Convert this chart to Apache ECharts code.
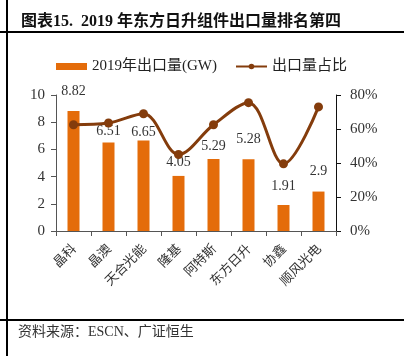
<!DOCTYPE html>
<html><head><meta charset="utf-8">
<script src="https://cdn.jsdelivr.net/npm/echarts@6/dist/echarts.min.js"></script>
<style>html,body{margin:0;padding:0;background:#fff}#c{width:404px;height:356px}</style>
</head><body><div id="c"></div>
<script>
const categories = ['晶科','晶澳','天合光能','隆基','阿特斯','东方日升','协鑫','顺风光电'];
const exportGW = [8.82, 6.51, 6.65, 4.05, 5.29, 5.28, 1.91, 2.9];
const sharePct = [62.5, 63.5, 69, 45, 62.5, 75.5, 39.5, 73];
const leftTicks = {min: 0, max: 10, interval: 2};
const rightTicks = {min: 0, max: 80, interval: 20};
const labelGap = [13, 4, 1, 7, 6, 13, 12, 13];

const serif = '"Liberation Serif", "Noto Sans CJK SC", serif';
const chart = echarts.init(document.getElementById('c'), null, {renderer: 'canvas'});
chart.setOption({
  animation: false,
  backgroundColor: '#fff',
  title: {
    text: '图表15.  2019 年东方日升组件出口量排名第四',
    left: 16, top: 9,
    textStyle: {fontFamily: serif, fontSize: 16, fontWeight: 'bold', color: '#111'}
  },
  graphic: [
    {type: 'rect', shape: {x: 6, y: 0, width: 2, height: 356}, style: {fill: '#000'}},
    {type: 'rect', shape: {x: 0, y: 31, width: 404, height: 2}, style: {fill: '#000'}},
    {type: 'rect', shape: {x: 0, y: 319, width: 404, height: 2}, style: {fill: '#000'}},
    {type: 'text', left: 18, top: 325, style: {text: '资料来源：ESCN、广证恒生', font: '14px ' + serif, fill: '#333'}}
  ],
  legend: {
    left: 51, top: 54,
    itemWidth: 31, itemHeight: 7, itemGap: 18,
    textStyle: {fontFamily: serif, fontSize: 15, color: '#222'},
    data: [
      {name: '2019年出口量(GW)', icon: 'rect'},
      {name: '出口量占比'}
    ]
  },
  grid: {left: 56, right: 68, top: 95, bottom: 125, containLabel: false},
  xAxis: {
    type: 'category', data: categories,
    axisLine: {lineStyle: {color: '#555', width: 1}},
    axisTick: {show: true, length: 5, lineStyle: {color: '#555'}},
    axisLabel: {rotate: 45, interval: 0, fontSize: 13, color: '#333', margin: 15,
      fontFamily: '"Noto Sans CJK SC", sans-serif'}
  },
  yAxis: [
    {type: 'value', min: leftTicks.min, max: leftTicks.max, interval: leftTicks.interval,
     axisLine: {show: true, lineStyle: {color: '#555'}},
     axisTick: {show: true, length: 5, lineStyle: {color: '#555'}},
     splitLine: {show: false},
     axisLabel: {fontFamily: serif, fontSize: 15, color: '#333', margin: 11}},
    {type: 'value', min: rightTicks.min, max: rightTicks.max, interval: rightTicks.interval,
     axisLine: {show: true, lineStyle: {color: '#111'}},
     axisTick: {show: true, length: 5, lineStyle: {color: '#111'}},
     splitLine: {show: false},
     axisLabel: {fontFamily: serif, fontSize: 15, color: '#333', margin: 14, formatter: '{value}%'}}
  ],
  series: [
    {name: '2019年出口量(GW)', type: 'bar', yAxisIndex: 0, barWidth: 12,
     itemStyle: {color: '#E46C0A'},
     data: exportGW.map((v, i) => ({value: v, label: {distance: labelGap[i]}})),
     label: {show: true, position: 'top', fontFamily: serif, fontSize: 14, color: '#333'}},
    {name: '出口量占比', type: 'line', yAxisIndex: 1, smooth: 0.35,
     symbol: 'circle', symbolSize: 9,
     lineStyle: {color: '#843C0C', width: 3},
     itemStyle: {color: '#843C0C'},
     data: sharePct, z: 3}
  ]
});
</script></body></html>
